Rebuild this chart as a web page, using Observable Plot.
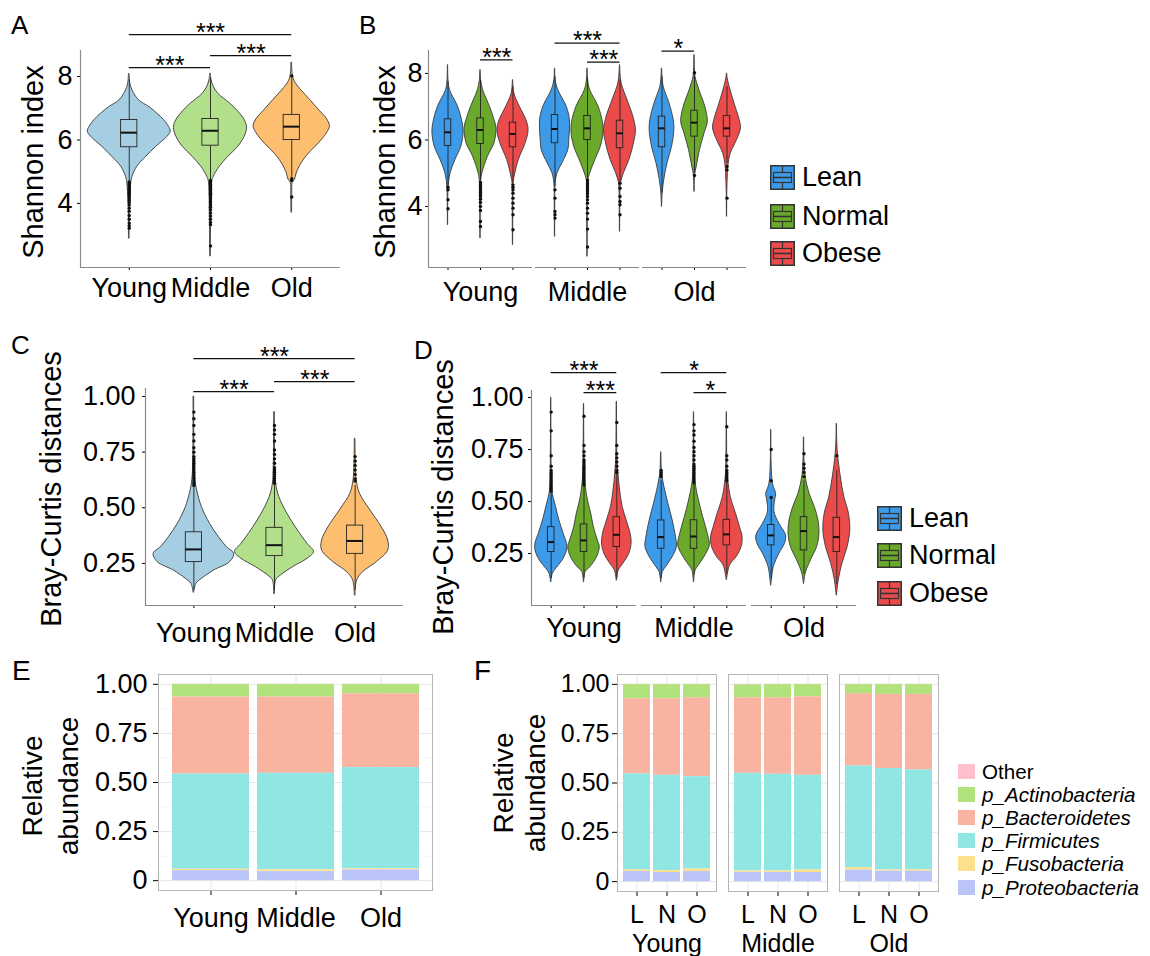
<!DOCTYPE html>
<html>
<head>
<meta charset="utf-8">
<script src="https://cdn.jsdelivr.net/npm/d3@7"></script>
<script src="https://cdn.jsdelivr.net/npm/@observablehq/plot@0.6"></script>
<style>
  html, body { margin: 0; padding: 0; background: #fff; }
  #fig { position: relative; width: 1150px; height: 956px; overflow: hidden; font-family: "Liberation Sans", Arial, Helvetica, sans-serif; color: #000; }
  .letter { position: absolute; font-size: 26px; line-height: 1; }
  .ytitle { position: absolute; white-space: nowrap; text-align: center; transform: translate(-50%, -50%) rotate(-90deg); }
  .leg { position: absolute; display: flex; align-items: center; white-space: nowrap; }
</style>
</head>
<body>
<div id="fig"></div>
<script>
// ---------------- categories & colours ----------------
const ageGroups = ["Young", "Middle", "Old"];
const bmiGroups = ["Lean", "Normal", "Obese"];
const bmiShort = ["L", "N", "O"];
const ageColors = ["#a6cee3", "#b2df8a", "#fdbf6f"];
const bmiColors = ["#3d9ae8", "#6aa92a", "#ec4b4b"];
const phyla = ["Other", "p_Actinobacteria", "p_Bacteroidetes", "p_Firmicutes", "p_Fusobacteria", "p_Proteobacteria"];
const phylaColors = ["#ffbfcc", "#b2e27c", "#f8b4a0", "#8fe6e3", "#fde08c", "#bac4f6"];
const stackOrder = ["p_Proteobacteria", "p_Fusobacteria", "p_Firmicutes", "p_Bacteroidetes", "p_Actinobacteria", "Other"];

// ---------------- Panel A: Shannon index by age ----------------
// violin outline: [value, half-width in category units]
const shannonAgeViolin = [
  ["Young", [[2.9,0.004],[4.0,0.008],[4.65,0.025],[4.84,0.04],[5.16,0.1],[5.47,0.21],[5.78,0.33],[6.1,0.47],[6.26,0.51],[6.41,0.49],[6.62,0.43],[6.82,0.35],[7.03,0.25],[7.25,0.12],[7.56,0.04],[7.8,0.012],[8.08,0.004]]],
  ["Middle", [[2.34,0.004],[3.5,0.008],[4.68,0.02],[4.84,0.04],[5.16,0.115],[5.47,0.22],[5.78,0.34],[6.1,0.42],[6.37,0.45],[6.58,0.43],[6.84,0.36],[7.15,0.24],[7.46,0.095],[7.72,0.033],[7.9,0.012],[8.09,0.004]]],
  ["Old", [[3.72,0.004],[4.3,0.006],[4.65,0.012],[4.75,0.04],[4.94,0.06],[5.26,0.12],[5.57,0.21],[5.88,0.33],[6.2,0.43],[6.43,0.47],[6.67,0.43],[6.93,0.34],[7.25,0.23],[7.56,0.12],[7.86,0.033],[8.1,0.01],[8.44,0.004]]]
];
// box: [lower whisker, Q1, median, Q3, upper whisker]
const shannonAgeBox = [
  ["Young", [4.7, 5.77, 6.23, 6.63, 7.9]],
  ["Middle", [4.75, 5.82, 6.29, 6.66, 7.95]],
  ["Old", [4.82, 6.0, 6.42, 6.79, 7.95]]
];
const shannonAgeOutliers = [
  ["Young", [4.68,4.64,4.6,4.56,4.52,4.48,4.44,4.4,4.36,4.32,4.28,4.22,4.16,4.1,4.03,3.95,3.85,3.75,3.62,3.5,3.38,3.3,3.22]],
  ["Middle", [4.72,4.68,4.64,4.6,4.56,4.52,4.48,4.44,4.4,4.36,4.32,4.28,4.24,4.2,4.14,4.08,4.02,3.95,3.88,3.8,3.7,3.6,3.5,3.4,3.33,2.66]],
  ["Old", [4.78, 4.72, 4.2, 8.02]]
];
const shannonAgeSig = [["Young","Middle",8.28,"***"],["Middle","Old",8.66,"***"],["Young","Old",9.32,"***"]];

// ---------------- Panel B: Shannon index by age x BMI ----------------
const shannonBmiViolin = [
  ["Young","Lean",[[3.45,0.004],[4.2,0.008],[4.6,0.02],[5.0,0.08],[5.4,0.23],[5.8,0.41],[6.25,0.48],[6.6,0.43],[7.0,0.31],[7.5,0.06],[7.8,0.015],[8.25,0.004]]],
  ["Young","Normal",[[3.05,0.004],[4.0,0.008],[4.75,0.02],[5.0,0.06],[5.5,0.23],[5.9,0.43],[6.35,0.49],[6.6,0.43],[7.0,0.29],[7.5,0.08],[7.8,0.02],[8.1,0.004]]],
  ["Young","Obese",[[2.85,0.004],[3.8,0.008],[4.7,0.015],[4.9,0.05],[5.4,0.18],[5.9,0.39],[6.3,0.48],[6.6,0.41],[7.0,0.21],[7.4,0.04],[7.8,0.004]]],
  ["Middle","Lean",[[3.1,0.004],[4.0,0.008],[4.7,0.02],[5.0,0.08],[5.3,0.23],[5.7,0.41],[6.0,0.44],[6.3,0.46],[6.6,0.46],[7.0,0.36],[7.5,0.1],[7.8,0.02],[8.15,0.004]]],
  ["Middle","Normal",[[2.5,0.004],[3.5,0.008],[4.75,0.015],[4.9,0.05],[5.3,0.2],[5.8,0.41],[6.2,0.49],[6.5,0.48],[7.0,0.34],[7.5,0.08],[7.8,0.02],[8.15,0.004]]],
  ["Middle","Obese",[[3.25,0.004],[4.0,0.008],[4.5,0.015],[4.7,0.03],[5.0,0.12],[5.4,0.29],[5.9,0.43],[6.3,0.49],[6.7,0.41],[7.2,0.23],[7.7,0.05],[8.0,0.015],[8.25,0.004]]],
  ["Old","Lean",[[4.0,0.004],[4.4,0.02],[4.8,0.07],[5.3,0.17],[5.8,0.31],[6.3,0.38],[6.6,0.36],[7.1,0.23],[7.6,0.05],[7.9,0.015],[8.15,0.004]]],
  ["Old","Normal",[[4.45,0.004],[4.95,0.02],[5.2,0.07],[5.7,0.17],[6.2,0.31],[6.55,0.41],[7.0,0.33],[7.5,0.15],[7.9,0.03],[8.2,0.01],[8.55,0.004]]],
  ["Old","Obese",[[3.7,0.004],[4.4,0.008],[4.8,0.02],[5.2,0.04],[5.6,0.12],[6.0,0.31],[6.35,0.43],[6.6,0.39],[7.1,0.23],[7.6,0.08],[7.85,0.02],[8.0,0.004]]]
];
const shannonBmiBox = [
  ["Young","Lean",[4.62,5.82,6.23,6.62,7.75]],
  ["Young","Normal",[4.78,5.88,6.3,6.65,7.8]],
  ["Young","Obese",[4.7,5.78,6.18,6.52,7.6]],
  ["Middle","Lean",[4.6,5.9,6.33,6.75,7.9]],
  ["Middle","Normal",[4.85,6.0,6.35,6.72,7.85]],
  ["Middle","Obese",[4.75,5.75,6.2,6.58,7.8]],
  ["Old","Lean",[4.4,5.78,6.35,6.7,7.9]],
  ["Old","Normal",[5.0,6.1,6.52,6.88,7.95]],
  ["Old","Obese",[5.3,6.1,6.35,6.72,7.6]]
];
const shannonBmiOutliers = [
  ["Young","Lean",[4.58,4.5,4.2,3.93]],
  ["Young","Normal",[4.72,4.66,4.6,4.54,4.48,4.42,4.36,4.3,4.22,4.12,4.0,3.88,3.55,3.4]],
  ["Young","Obese",[4.65,4.58,4.5,4.4,4.25,4.1,3.95,3.75,3.3]],
  ["Middle","Lean",[4.5,4.25,3.85,3.75,3.65]],
  ["Middle","Normal",[4.8,4.74,4.68,4.62,4.56,4.5,4.44,4.38,4.3,4.2,4.1,3.95,3.8,3.62,3.32,2.78]],
  ["Middle","Obese",[4.7,4.55,4.3,4.15,4.05,3.75]],
  ["Old","Normal",[8.02,4.93]],
  ["Old","Obese",[5.2,5.1,4.25]]
];
const shannonBmiSig = [
  ["Young","Normal","Obese",8.41,"***"],
  ["Middle","Lean","Obese",8.91,"***"],
  ["Middle","Normal","Obese",8.34,"***"],
  ["Old","Lean","Normal",8.67,"*"]
];
const shannonTicks = [4, 6, 8];

// ---------------- Panel C: Bray-Curtis by age ----------------
const brayAgeViolin = [
  ["Young", [[0.12,0.004],[0.158,0.03],[0.181,0.1],[0.218,0.25],[0.256,0.45],[0.293,0.5],[0.323,0.41],[0.368,0.31],[0.428,0.2],[0.503,0.1],[0.578,0.04],[0.623,0.02],[0.7,0.008],[1.0,0.004]]],
  ["Middle", [[0.114,0.004],[0.174,0.02],[0.196,0.08],[0.233,0.23],[0.271,0.41],[0.301,0.49],[0.338,0.41],[0.398,0.29],[0.473,0.16],[0.548,0.06],[0.608,0.02],[0.7,0.008],[0.93,0.004]]],
  ["Old", [[0.107,0.004],[0.174,0.025],[0.211,0.1],[0.256,0.27],[0.308,0.41],[0.353,0.41],[0.413,0.33],[0.488,0.19],[0.563,0.06],[0.623,0.02],[0.7,0.008],[0.81,0.004]]]
];
const brayAgeBox = [
  ["Young", [0.13, 0.256, 0.313, 0.39, 0.59]],
  ["Middle", [0.13, 0.283, 0.332, 0.41, 0.6]],
  ["Old", [0.13, 0.293, 0.351, 0.42, 0.6]]
];
const brayAgeOutliers = [
  ["Young", [0.6,0.61,0.62,0.63,0.64,0.65,0.66,0.67,0.68,0.69,0.7,0.71,0.72,0.73,0.75,0.77,0.8,0.83,0.87,0.9,0.93]],
  ["Middle", [0.61,0.62,0.63,0.64,0.65,0.66,0.67,0.68,0.7,0.72,0.74,0.76,0.8,0.83,0.85,0.87]],
  ["Old", [0.62,0.63,0.65,0.67,0.69,0.71,0.73]]
];
const brayAgeSig = [["Young","Middle",1.022,"***"],["Middle","Old",1.067,"***"],["Young","Old",1.17,"***"]];
const brayTicks = [0.25, 0.5, 0.75, 1.0];

// ---------------- Panel D: Bray-Curtis by age x BMI ----------------
const brayBmiViolin = [
  ["Young","Lean",[[0.113,0.004],[0.153,0.05],[0.177,0.15],[0.217,0.35],[0.265,0.48],[0.297,0.48],[0.345,0.38],[0.409,0.25],[0.473,0.15],[0.537,0.05],[0.6,0.02],[0.8,0.008],[1.0,0.004]]],
  ["Young","Normal",[[0.113,0.004],[0.161,0.05],[0.185,0.2],[0.233,0.4],[0.281,0.48],[0.313,0.42],[0.377,0.3],[0.441,0.22],[0.505,0.12],[0.577,0.05],[0.65,0.02],[0.8,0.008],[0.97,0.004]]],
  ["Young","Obese",[[0.121,0.004],[0.169,0.06],[0.201,0.2],[0.249,0.38],[0.297,0.45],[0.345,0.42],[0.409,0.3],[0.473,0.18],[0.553,0.1],[0.633,0.05],[0.7,0.02],[0.85,0.008],[0.98,0.004]]],
  ["Middle","Lean",[[0.113,0.004],[0.161,0.05],[0.185,0.15],[0.233,0.35],[0.281,0.48],[0.329,0.45],[0.409,0.35],[0.489,0.22],[0.569,0.1],[0.62,0.04],[0.65,0.02],[0.737,0.004]]],
  ["Middle","Normal",[[0.113,0.004],[0.169,0.05],[0.193,0.15],[0.241,0.35],[0.289,0.48],[0.345,0.42],[0.425,0.28],[0.505,0.15],[0.585,0.05],[0.65,0.02],[0.8,0.008],[0.93,0.004]]],
  ["Middle","Obese",[[0.124,0.004],[0.193,0.1],[0.233,0.3],[0.281,0.45],[0.329,0.48],[0.377,0.4],[0.441,0.28],[0.521,0.12],[0.593,0.05],[0.65,0.02],[0.8,0.008],[0.93,0.004]]],
  ["Old","Lean",[[0.097,0.004],[0.121,0.02],[0.185,0.08],[0.249,0.25],[0.297,0.42],[0.337,0.45],[0.393,0.25],[0.449,0.1],[0.505,0.12],[0.537,0.15],[0.57,0.08],[0.601,0.04],[0.7,0.01],[0.845,0.004]]],
  ["Old","Normal",[[0.105,0.004],[0.153,0.05],[0.217,0.21],[0.281,0.4],[0.345,0.47],[0.409,0.44],[0.473,0.33],[0.537,0.17],[0.62,0.05],[0.7,0.015],[0.809,0.004]]],
  ["Old","Obese",[[0.049,0.004],[0.121,0.06],[0.201,0.17],[0.281,0.33],[0.361,0.41],[0.441,0.37],[0.521,0.23],[0.62,0.12],[0.73,0.035],[0.8,0.01],[0.874,0.004]]]
];
const brayBmiBox = [
  ["Young","Lean",[0.13,0.257,0.305,0.377,0.54]],
  ["Young","Normal",[0.13,0.257,0.313,0.39,0.58]],
  ["Young","Obese",[0.13,0.281,0.34,0.425,0.63]],
  ["Middle","Lean",[0.13,0.273,0.329,0.409,0.6]],
  ["Middle","Normal",[0.15,0.273,0.332,0.41,0.59]],
  ["Middle","Obese",[0.15,0.289,0.342,0.412,0.6]],
  ["Old","Lean",[0.13,0.289,0.337,0.387,0.52]],
  ["Old","Normal",[0.15,0.265,0.358,0.425,0.6]],
  ["Old","Obese",[0.1,0.257,0.329,0.422,0.65]]
];
const brayBmiOutliers = [
  ["Young","Lean",[0.55,0.56,0.57,0.58,0.59,0.6,0.61,0.62,0.63,0.64,0.65,0.67,0.72,0.84,0.93]],
  ["Young","Normal",[0.58,0.59,0.6,0.61,0.62,0.63,0.64,0.65,0.66,0.67,0.68,0.69,0.7,0.72,0.74,0.77,0.91]],
  ["Young","Obese",[0.64,0.65,0.67,0.69,0.71,0.73,0.77,0.88]],
  ["Middle","Lean",[0.62,0.63,0.64,0.65]],
  ["Middle","Normal",[0.59,0.6,0.61,0.62,0.63,0.64,0.65,0.66,0.67,0.68,0.7,0.72,0.74,0.76,0.79,0.82,0.84,0.87]],
  ["Middle","Obese",[0.6,0.61,0.62,0.63,0.64,0.65,0.67,0.7,0.72,0.86]],
  ["Old","Lean",[0.52,0.6,0.75]],
  ["Old","Normal",[0.62,0.64,0.66,0.68,0.73]],
  ["Old","Obese",[0.72]]
];
const brayBmiSig = [
  ["Young","Lean","Obese",1.12,"***"],
  ["Young","Normal","Obese",1.024,"***"],
  ["Middle","Lean","Obese",1.12,"*"],
  ["Middle","Normal","Obese",1.024,"*"]
];

// ---------------- Panels E/F: relative abundance (order of phyla above) ----------------
const abundanceAge = [
  ["Young", [0.001, 0.064, 0.392, 0.485, 0.007, 0.051]],
  ["Middle", [0.001, 0.064, 0.388, 0.492, 0.009, 0.046]],
  ["Old", [0.001, 0.047, 0.376, 0.515, 0.006, 0.055]]
];
const abundanceAgeBmi = [
  ["Young","Lean",[0.001,0.072,0.381,0.487,0.008,0.051]],
  ["Young","Normal",[0.001,0.072,0.388,0.483,0.010,0.046]],
  ["Young","Obese",[0.001,0.067,0.400,0.468,0.013,0.051]],
  ["Middle","Lean",[0.003,0.065,0.383,0.495,0.007,0.047]],
  ["Middle","Normal",[0.001,0.067,0.388,0.490,0.008,0.046]],
  ["Middle","Obese",[0.001,0.062,0.398,0.480,0.013,0.046]],
  ["Old","Lean",[0.001,0.046,0.367,0.515,0.012,0.059]],
  ["Old","Normal",[0.001,0.050,0.376,0.514,0.006,0.053]],
  ["Old","Obese",[0.001,0.050,0.383,0.505,0.008,0.053]]
];
const abundanceTicks = [0, 0.25, 0.5, 0.75, 1.0];
const abundanceMinor = [0.125, 0.375, 0.625, 0.875];

// ---------------- helpers ----------------
const FONT = '"Liberation Sans", Arial, Helvetica, sans-serif';
const styleFor = size => ({fontFamily: FONT, fontSize: size + "px", color: "#000", background: "transparent", overflow: "visible"});
const fig = document.getElementById("fig");

function place(node, left, top) {
  node.style.position = "absolute";
  node.style.left = left + "px";
  node.style.top = top + "px";
  fig.appendChild(node);
}

function violinPlot(cfg) {
  const faceted = !!cfg.faceted;
  const groups = faceted ? bmiGroups : ageGroups;
  const pos = g => groups.indexOf(g) + 1;
  const split = r => faceted ? {f: r[0], g: r[1], rest: r.slice(2)} : {f: null, g: r[0], rest: r.slice(1)};
  const vRows = [], bRows = [], oRows = [], sRows = [];
  for (const r of cfg.violin) { const {f, g, rest} = split(r); for (const [v, w] of rest[0]) vRows.push({f, g, c: pos(g), v, w}); }
  for (const r of cfg.box) { const {f, g, rest} = split(r); const [lo, q1, med, q3, hi] = rest[0]; bRows.push({f, g, c: pos(g), lo, q1, med, q3, hi}); }
  for (const r of cfg.outliers) { const {f, g, rest} = split(r); for (const v of rest[0]) oRows.push({f, g, c: pos(g), v}); }
  for (const r of cfg.sig) {
    const f = faceted ? r[0] : null; const s = faceted ? r.slice(1) : r;
    sRows.push({f, c1: pos(s[0]), c2: pos(s[1]), v: s[2], label: s[3]});
  }
  const F = faceted ? {fx: "f"} : {};
  const axisStroke = "#8a8a8a";
  const xDom = [0.4, 3.6];
  const marks = [
    Plot.areaX(vRows, {...F, y: "v", x1: d => d.c - d.w, x2: d => d.c + d.w, z: "g", fill: "g", stroke: "#3a3a3a", strokeWidth: 0.9, curve: "catmull-rom"}),
    Plot.ruleX(bRows, {...F, x: "c", y1: "lo", y2: "q1", stroke: "#222", strokeWidth: 0.9}),
    Plot.ruleX(bRows, {...F, x: "c", y1: "q3", y2: "hi", stroke: "#222", strokeWidth: 0.9}),
    Plot.rect(bRows, {...F, x1: d => d.c - 0.1, x2: d => d.c + 0.1, y1: "q1", y2: "q3", fill: "none", stroke: "#222", strokeWidth: 0.9}),
    Plot.ruleY(bRows, {...F, y: "med", x1: d => d.c - 0.1, x2: d => d.c + 0.1, stroke: "#111", strokeWidth: 2}),
    Plot.dot(oRows, {...F, x: "c", y: "v", r: 1.7, fill: "#111"}),
    Plot.ruleY(sRows, {...F, y: "v", x1: "c1", x2: "c2", stroke: "#111", strokeWidth: 1.3}),
    Plot.text(sRows, {...F, x: d => (d.c1 + d.c2) / 2, y: "v", text: "label", fontSize: 25, lineAnchor: "bottom", dy: 6}),
    Plot.ruleY([cfg.yDomain[0]], {stroke: axisStroke, strokeWidth: 1.2})
  ];
  if (faceted) {
    marks.push(Plot.ruleX([ageGroups[0]], {fx: d => d, x: () => xDom[0], stroke: axisStroke, strokeWidth: 1.2}));
    marks.push(Plot.text(ageGroups, {fx: d => d, text: d => d, frameAnchor: "bottom", lineAnchor: "middle", dy: cfg.facetDy, fontSize: cfg.font}));
  } else {
    marks.push(Plot.ruleX([xDom[0]], {stroke: axisStroke, strokeWidth: 1.2}));
  }
  const opts = {
    width: cfg.width, height: cfg.height,
    marginLeft: cfg.m[0], marginRight: cfg.m[1], marginTop: cfg.m[2], marginBottom: cfg.m[3],
    style: styleFor(cfg.font),
    x: {domain: xDom, ticks: [1, 2, 3], tickFormat: faceted ? () => "" : i => ageGroups[i - 1], tickSize: 3, tickPadding: cfg.xPad, label: null},
    y: {domain: cfg.yDomain, ticks: cfg.yTicks, tickFormat: cfg.yFormat, tickSize: 3, tickPadding: cfg.yPad, label: null},
    color: {domain: groups, range: faceted ? bmiColors : ageColors},
    marks
  };
  if (faceted) opts.fx = {domain: ageGroups, paddingInner: cfg.fxPad, paddingOuter: 0, axis: null, label: null};
  return Plot.plot(opts);
}

function barPlot(cfg) {
  const faceted = !!cfg.faceted;
  const rows = faceted
    ? abundanceAgeBmi.flatMap(([age, bmi, vals]) => vals.map((value, i) => ({age, bmi: bmiShort[bmiGroups.indexOf(bmi)], phylum: phyla[i], value})))
    : abundanceAge.flatMap(([age, vals]) => vals.map((value, i) => ({age, phylum: phyla[i], value})));
  const F = faceted ? {fx: "age"} : {};
  const marks = [
    Plot.gridY(abundanceMinor, {stroke: "#f0f0f0", strokeOpacity: 1, strokeWidth: 0.6}),
    Plot.gridY(abundanceTicks, {stroke: "#e6e6e6", strokeOpacity: 1, strokeWidth: 1}),
    Plot.gridX(faceted ? bmiShort : ageGroups, {stroke: "#e6e6e6", strokeOpacity: 1, strokeWidth: 1}),
    Plot.barY(rows, {...F, x: faceted ? "bmi" : "age", y: "value", fill: "phylum", order: stackOrder}),
    Plot.frame({stroke: "#b5b5b5", strokeWidth: 1})
  ];
  if (faceted) marks.push(Plot.text(ageGroups, {fx: d => d, text: d => d, frameAnchor: "bottom", lineAnchor: "middle", dy: cfg.facetDy, fontSize: cfg.font}));
  const opts = {
    width: cfg.width, height: cfg.height,
    marginLeft: cfg.m[0], marginRight: cfg.m[1], marginTop: cfg.m[2], marginBottom: cfg.m[3],
    style: styleFor(cfg.font),
    x: {domain: faceted ? bmiShort : ageGroups, paddingInner: 0.1, paddingOuter: 0.15, tickSize: 5, tickPadding: cfg.xPad, label: null},
    y: {domain: [-0.05, 1.05], ticks: abundanceTicks, tickFormat: d => d === 0 ? "0" : d3.format(".2f")(d), tickSize: 5, tickPadding: cfg.yPad, label: null},
    color: {domain: phyla, range: phylaColors},
    marks
  };
  if (faceted) opts.fx = {domain: ageGroups, paddingInner: 0.107, paddingOuter: 0, axis: null, label: null};
  return Plot.plot(opts);
}

// ---------------- build panels ----------------
place(violinPlot({violin: shannonAgeViolin, box: shannonAgeBox, outliers: shannonAgeOutliers, sig: shannonAgeSig, font: 27,
  width: 345, height: 320, m: [80, 5, 50, 53], yDomain: [1.98, 8.82], yTicks: shannonTicks, yFormat: d3.format("d"), xPad: 7, yPad: 5}), 0, 0);

place(violinPlot({faceted: true, violin: shannonBmiViolin, box: shannonBmiBox, outliers: shannonBmiOutliers, sig: shannonBmiSig, font: 27,
  width: 370, height: 320, m: [47, 3, 50, 53], yDomain: [2.165, 8.69], yTicks: shannonTicks, yFormat: d3.format("d"), xPad: 7, yPad: 3, fxPad: 0.032, facetDy: 25}), 380, 0);

place(violinPlot({violin: brayAgeViolin, box: brayAgeBox, outliers: brayAgeOutliers, sig: brayAgeSig, font: 27,
  width: 410, height: 330, m: [145, 7, 68, 45], yDomain: [0.061, 1.036], yTicks: brayTicks, yFormat: d3.format(".2f"), xPad: 14, yPad: 7}), 0, 320);

place(violinPlot({faceted: true, violin: brayBmiViolin, box: brayBmiBox, outliers: brayBmiOutliers, sig: brayBmiSig, font: 27,
  width: 380, height: 330, m: [51, 3, 70, 45], yDomain: [0.0, 1.034], yTicks: brayTicks, yFormat: d3.format(".2f"), xPad: 7, yPad: 5, fxPad: 0.041, facetDy: 22.5}), 480, 320);

place(barPlot({font: 27, width: 440, height: 306, m: [158, 8, 24, 66], xPad: 12, yPad: 6}), 0, 650);
place(barPlot({faceted: true, font: 25, width: 480, height: 306, m: [146, 10, 24, 65], xPad: 9, yPad: 3, facetDy: 52}), 470, 650);

// ---------------- text: panel letters & axis titles ----------------
const letters = [["A", 11, 11.6, 26], ["B", 359, 11.6, 26], ["C", 11, 331.6, 26], ["D", 414, 336.6, 26], ["E", 12, 657, 28], ["F", 474, 657, 28]];
for (const [t, x, y, s] of letters) {
  const d = document.createElement("div"); d.className = "letter"; d.textContent = t; d.style.fontSize = s + "px";
  place(d, x, y);
}
const yTitles = [
  [["Shannon index"], 32.5, 162, 29, 29],
  [["Shannon index"], 385, 162, 29, 29],
  [["Bray-Curtis distances"], 51, 489, 29, 29],
  [["Bray-Curtis distances"], 443, 497, 29, 29],
  [["Relative", "abundance"], 51, 786, 28, 36],
  [["Relative", "abundance"], 520, 783, 28, 32]
];
for (const [lines, x, y, fs, lh] of yTitles) {
  const d = document.createElement("div"); d.className = "ytitle";
  d.style.fontSize = fs + "px";
  d.style.lineHeight = lh + "px";
  lines.forEach((l, i) => { if (i) d.appendChild(document.createElement("br")); d.appendChild(document.createTextNode(l)); });
  place(d, x, y);
}

// ---------------- legends ----------------
function boxGlyph(color, w, h) {
  const ns = "http://www.w3.org/2000/svg";
  const s = document.createElementNS(ns, "svg");
  s.setAttribute("width", w); s.setAttribute("height", h);
  const add = (tag, attrs) => { const e = document.createElementNS(ns, tag); for (const k in attrs) e.setAttribute(k, attrs[k]); s.appendChild(e); };
  const st = "#333";
  add("rect", {x: 0.75, y: 0.75, width: w - 1.5, height: h - 1.5, fill: color, stroke: st, "stroke-width": 1.5});
  add("line", {x1: w / 2, x2: w / 2, y1: 1, y2: h * 0.3, stroke: st, "stroke-width": 1.2});
  add("rect", {x: w * 0.14, y: h * 0.3, width: w * 0.72, height: h * 0.4, fill: "none", stroke: st, "stroke-width": 1.2});
  add("line", {x1: w * 0.14, x2: w * 0.86, y1: h / 2, y2: h / 2, stroke: st, "stroke-width": 1.6});
  add("line", {x1: w / 2, x2: w / 2, y1: h * 0.7, y2: h - 1, stroke: st, "stroke-width": 1.2});
  return s;
}
function bmiLegend(left, tops, size) {
  bmiGroups.forEach((g, i) => {
    const row = document.createElement("div"); row.className = "leg";
    row.style.height = size + "px"; row.style.fontSize = "27px";
    const glyph = boxGlyph(bmiColors[i], size, size);
    glyph.style.marginRight = "7px";
    row.appendChild(glyph);
    const t = document.createElement("span"); t.textContent = g; t.style.lineHeight = size + "px";
    row.appendChild(t);
    place(row, left, tops[i]);
  });
}
bmiLegend(770, [165, 204, 241], 25);
bmiLegend(877, [506, 543, 581], 25);

const phylaTops = [763.5, 786.7, 809.9, 833.1, 856.3, 879.5];
phyla.forEach((p, i) => {
  const row = document.createElement("div"); row.className = "leg";
  row.style.height = "15px"; row.style.fontSize = "20.6px";
  const sw = document.createElement("div");
  sw.style.width = "17px"; sw.style.height = "15px"; sw.style.background = phylaColors[i]; sw.style.marginRight = "7px";
  row.appendChild(sw);
  const t = document.createElement("span"); t.textContent = p; t.style.lineHeight = "15px";
  if (i > 0) t.style.fontStyle = "italic";
  row.appendChild(t);
  place(row, 958, phylaTops[i]);
});
</script>
</body>
</html>
